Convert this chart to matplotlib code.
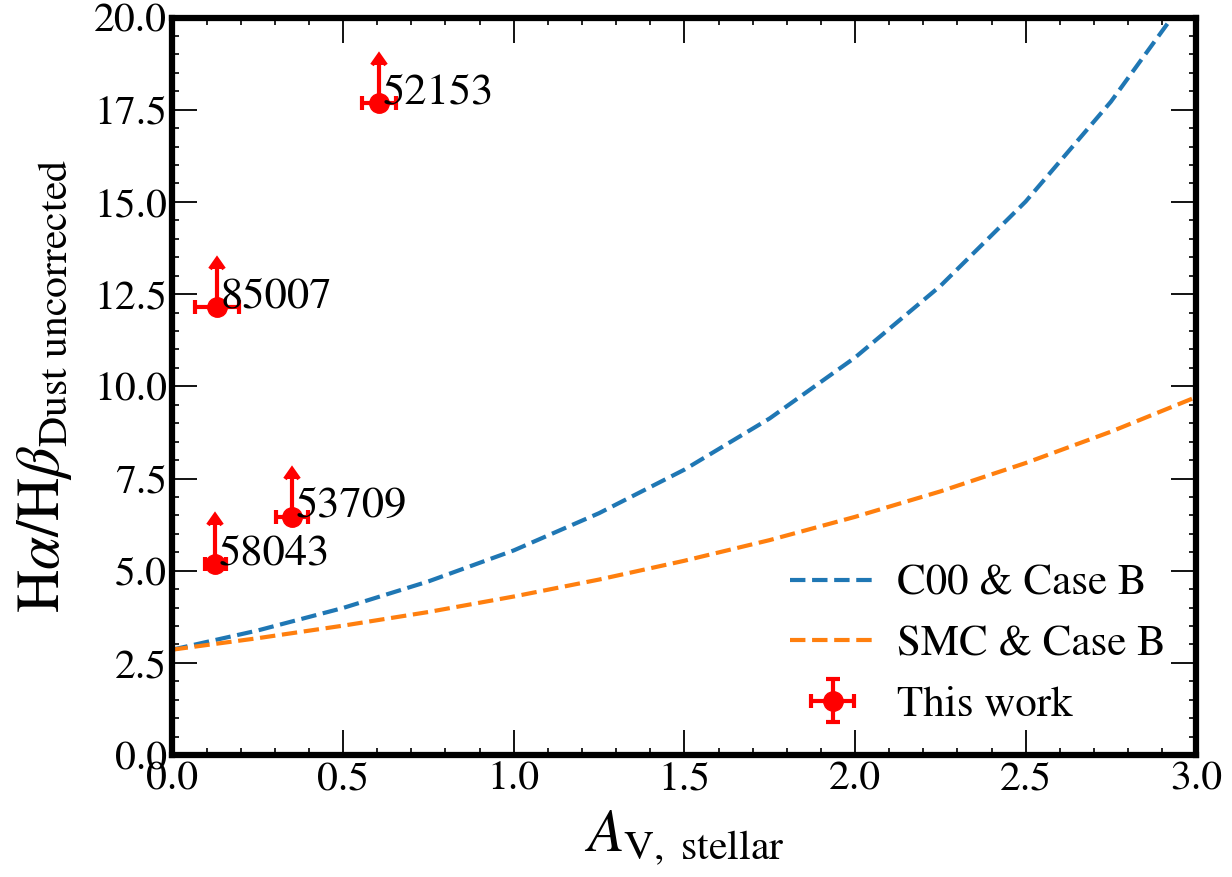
import numpy as np
import matplotlib
matplotlib.use('Agg')
import matplotlib.pyplot as plt

plt.rcParams['font.family'] = ['STIXGeneral', 'Liberation Serif', 'DejaVu Serif']
plt.rcParams['mathtext.fontset'] = 'stix'

# model curves at steps of 0.25 in A_V
av_grid = [0.0, 0.25, 0.5, 0.75, 1.0, 1.25, 1.5, 1.75, 2.0, 2.25, 2.5, 2.75, 3.0]
c00_ratio = [2.86, 3.38, 3.99, 4.71, 5.55, 6.56, 7.74, 9.13, 10.78, 12.72, 15.01, 17.72, 20.91]
smc_ratio = [2.86, 3.17, 3.51, 3.88, 4.30, 4.76, 5.27, 5.83, 6.46, 7.15, 7.92, 8.77, 9.71]

# galaxies (lower limits on the Balmer decrement)
names = ['52153', '85007', '58043', '53709']
av_obs = [0.606, 0.13, 0.126, 0.35]
av_err = [0.05, 0.064, 0.03, 0.047]
ratio_obs = [17.67, 12.14, 5.18, 6.45]
ratio_arrow = [1.05, 1.05, 1.05, 1.05]

fig, ax = plt.subplots(figsize=(12.32, 8.77), dpi=100)
fig.subplots_adjust(left=0.14, right=0.971, top=0.98, bottom=0.139)

ax.plot(av_grid, c00_ratio, ls='--', lw=3, color='#1f77b4', label='C00 & Case B')
ax.plot(av_grid, smc_ratio, ls='--', lw=3, color='#ff7f0e', label='SMC & Case B')
ax.errorbar(av_obs, ratio_obs, xerr=av_err, yerr=ratio_arrow, lolims=True,
            fmt='o', color='red', ms=14, elinewidth=3, capsize=5, capthick=3,
            label='This work')

for name, x, y in zip(names, av_obs, ratio_obs):
    ax.text(x + 0.01, y, name, fontsize=32, ha='left', va='baseline')

ax.set_xlim(0, 3.0)
ax.set_ylim(0, 20.0)
ax.set_xticks(np.arange(0, 3.01, 0.5))
ax.set_yticks(np.arange(0, 20.01, 2.5))
ax.set_xticklabels(['%.1f' % v for v in np.arange(0, 3.01, 0.5)])
ax.set_yticklabels(['%.1f' % v for v in np.arange(0, 20.01, 2.5)])
ax.minorticks_on()
ax.tick_params(which='both', direction='in', top=True, right=True, labelsize=30)
ax.tick_params(which='major', length=18, width=1.3, pad=4)
ax.tick_params(which='minor', length=5, width=1.2)
for sp in ax.spines.values():
    sp.set_linewidth(4.5)

ax.set_xlabel(r'$A_{\rm V,\ stellar}$', fontsize=43, labelpad=8)
ax.set_ylabel(r'$\mathrm{H}\alpha/\mathrm{H}\beta_{\rm Dust\ uncorrected}$', fontsize=43, labelpad=14)

ax.legend(loc='lower right', frameon=False, fontsize=31, handlelength=2.0,
          handletextpad=0.5, borderaxespad=0.3)

fig.savefig('out.png', dpi=100)
